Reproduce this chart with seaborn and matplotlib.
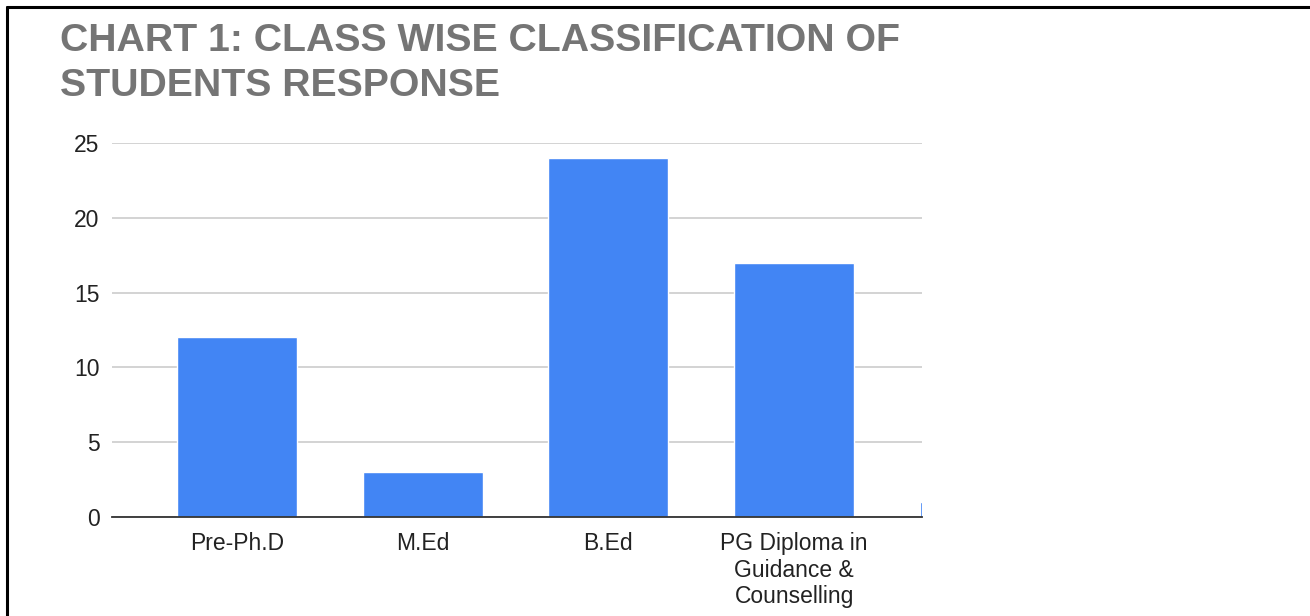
import matplotlib
matplotlib.use("Agg")
import matplotlib.pyplot as plt
from matplotlib.lines import Line2D
import seaborn as sns

# Chart data (fifth bar is cut off at the right edge, its label is not visible)
classes = ["Pre-Ph.D", "M.Ed", "B.Ed", "PG Diploma in\nGuidance &\nCounselling", ""]
responses = [12, 3, 24, 17, 1]
y_ticks = [0, 5, 10, 15, 20, 25]

sns.set_style("white")
plt.rcParams['font.family'] = ['Liberation Sans', 'DejaVu Sans']

fig = plt.figure(figsize=(13.1, 6.16), dpi=100)
ax = fig.add_axes([0.0855, 0.1607, 0.6183, 0.6072])

# Bars
sns.barplot(x=classes, y=responses, color="#4285f4", saturation=1, width=0.645, ax=ax, zorder=2)

# Axis scales, the chart is cropped on the right
ax.set_xlim(-0.672, 3.688)
ax.set_ylim(0, 25)
ax.set_yticks(y_ticks)
ax.set_yticklabels([str(t) for t in y_ticks])

# Grid and spines
ax.yaxis.grid(True, color="#cccccc", linewidth=1.2, zorder=0)
ax.set_axisbelow(True)
for side in ["top", "right", "left"]:
    ax.spines[side].set_visible(False)
ax.spines["bottom"].set_color("#333333")
ax.spines["bottom"].set_linewidth(1.3)
ax.spines["bottom"].set_zorder(3)

ax.tick_params(axis="both", length=0, labelsize=16.5, labelcolor="#222222")
ax.tick_params(axis="y", pad=9)
ax.tick_params(axis="x", pad=11)
ax.set_xlabel("")
ax.set_ylabel("")

# Title
fig.text(0.0458, 0.962, "CHART 1: CLASS WISE CLASSIFICATION OF\nSTUDENTS RESPONSE",
         ha="left", va="top", fontsize=28.3, fontweight="bold", color="#757575",
         linespacing=1.29)

# Screenshot border (top and left edges)
fig.add_artist(Line2D([7 / 1310, 1], [1 - 7 / 616, 1 - 7 / 616], color="black", linewidth=2.2,
                      transform=fig.transFigure))
fig.add_artist(Line2D([7 / 1310, 7 / 1310], [0, 1 - 7 / 616], color="black", linewidth=2.2,
                      transform=fig.transFigure))

fig.savefig("out.png", dpi=100)
